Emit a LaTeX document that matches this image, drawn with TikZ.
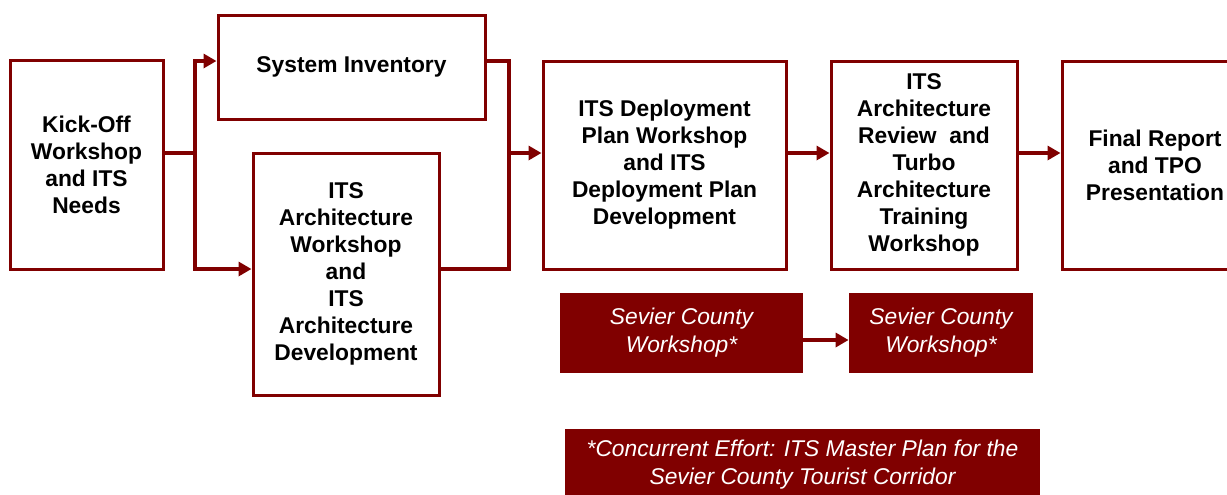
\documentclass[tikz,border=0pt]{standalone}
\usepackage{fontspec}
\setmainfont{Liberation Sans}
\usetikzlibrary{arrows.meta, positioning, calc}
\definecolor{vinho}{RGB}{128, 0, 0}

\begin{document}
\begin{tikzpicture}[
    x=0.5pt, y=-0.5pt,
    box/.style={draw=vinho, line width=1.5pt, fill=white, align=center, font=\bfseries\fontsize{11.4}{13.5}\selectfont, inner sep=0pt},
    tarja/.style={fill=vinho, text=white, align=center, font=\itshape\fontsize{11.4}{14}\selectfont, inner sep=0pt},
    arrow/.style={-{Triangle[length=6.5pt, width=7pt]}, line width=1.8pt, color=vinho},
    linha/.style={line width=1.8pt, color=vinho}
  ]
  \useasboundingbox (0,0) rectangle (1227,494);
  \clip (0,0) rectangle (1227,494);

  \node[box, minimum width=76.5pt, minimum height=104.5pt] (kick) at (86.5,165) {Kick-Off\\Workshop\\and ITS\\Needs};
  \node[box, minimum width=133.5pt, minimum height=52pt] (sysinv) at (351.5,67) {System Inventory};
  \node[box, minimum width=93pt, minimum height=121pt] (archws) at (346,274) {ITS\\Architecture\\Workshop\\and\\ITS\\Architecture\\Development};
  \node[box, minimum width=121.5pt, minimum height=104pt] (deploy) at (664.5,165) {ITS Deployment\\Plan Workshop\\and ITS\\Deployment Plan\\Development};
  \node[box, minimum width=93pt, minimum height=104pt] (review) at (924,165) {ITS\\Architecture\\Review\ \ and\\Turbo\\Architecture\\Training\\Workshop};
  \node[box, minimum width=93pt, minimum height=104pt] (final) at (1155,165) {Final Report\\and TPO\\Presentation};

  \node[tarja, minimum width=121.5pt, minimum height=40pt] (sevier1) at (681.5,333) {Sevier County\\Workshop*};
  \node[tarja, minimum width=92pt, minimum height=40pt] (sevier2) at (941,333) {Sevier County\\Workshop*};
  \node[tarja, minimum width=237.5pt, minimum height=36pt] (concur) at (802.5,465) {*Concurrent Effort: ITS Master Plan for the\\Sevier County Tourist Corridor};

  % ligacoes
  \coordinate (split) at (195,153);
  \coordinate (join) at (509,153);
  \coordinate (top) at (0,61);
  \coordinate (bot) at (0,269);
  \coordinate (mid) at (0,340);

  \draw[linha] (kick.east |- split) -- (split);
  \draw[arrow] (split) |- (sysinv.west |- top);
  \draw[arrow] (split) |- (archws.west |- bot);
  \draw[linha] (sysinv.east |- top) -| (join) |- (archws.east |- bot);
  \draw[arrow] (join) -- (deploy.west |- join);
  \draw[arrow] (deploy.east |- join) -- (review.west |- join);
  \draw[arrow] (review.east |- join) -- (final.west |- join);
  \draw[arrow] (sevier1.east |- mid) -- (sevier2.west |- mid);
\end{tikzpicture}
\end{document}
